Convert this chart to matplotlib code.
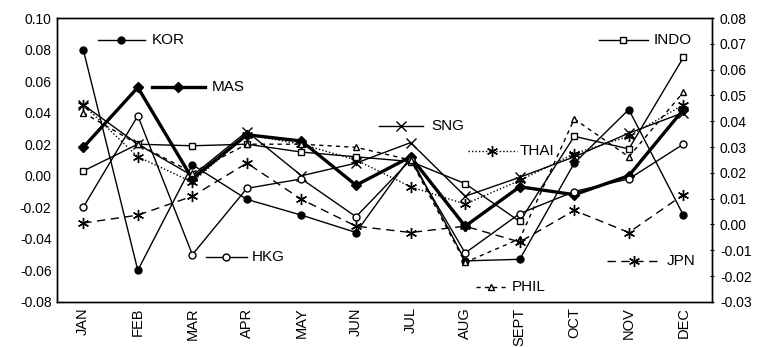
import matplotlib.pyplot as plt

plt.rcParams['font.family'] = ['Liberation Sans', 'DejaVu Sans']

# DATOS
months = ['JAN', 'FEB', 'MAR', 'APR', 'MAY', 'JUN', 'JUL', 'AUG', 'SEPT', 'OCT', 'NOV', 'DEC']

kor  = [0.080, -0.060, 0.007, -0.015, -0.025, -0.036, 0.012, -0.054, -0.053, 0.008, 0.042, -0.025]
mas  = [0.018, 0.056, -0.002, 0.026, 0.022, -0.006, 0.012, -0.032, -0.007, -0.012, 0.000, 0.042]
sng  = [0.045, 0.020, 0.000, 0.028, 0.000, 0.008, 0.021, -0.013, -0.001, 0.012, 0.027, 0.040]
thai = [0.045, 0.012, -0.004, 0.026, 0.020, 0.010, -0.007, -0.018, -0.003, 0.014, 0.025, 0.045]
indo = [0.003, 0.020, 0.019, 0.020, 0.015, 0.012, 0.009, -0.005, -0.029, 0.025, 0.017, 0.075]
hkg  = [-0.020, 0.038, -0.050, -0.008, -0.002, -0.026, 0.010, -0.049, -0.024, -0.010, -0.002, 0.020]
phil = [0.040, 0.020, 0.002, 0.020, 0.020, 0.018, 0.010, -0.055, -0.040, 0.036, 0.012, 0.053]
jpn  = [-0.030, -0.025, -0.013, 0.008, -0.015, -0.032, -0.036, -0.032, -0.042, -0.022, -0.036, -0.012]

left_ticks  = [0.10, 0.08, 0.06, 0.04, 0.02, 0.00, -0.02, -0.04, -0.06, -0.08]
right_ticks = [0.08, 0.07, 0.06, 0.05, 0.04, 0.03, 0.02, 0.01, 0.00, -0.01, -0.02, -0.03]

ASTER = (6, 2, 0)
series = [
    # nombre, datos, estilo, marcador, relleno, grosor, tam. marcador, pos. leyenda (x0, x1, y, xtexto)
    ('KOR',  kor,  '-',           'o',   'black', 1.0, 5, (0.27, 1.13, 0.086, 1.25)),
    ('MAS',  mas,  '-',           'D',   'black', 2.4, 5, (1.26, 2.23, 0.056, 2.35)),
    ('SNG',  sng,  '-',           'x',   'black', 1.0, 7, (5.42, 6.23, 0.0315, 6.38)),
    ('THAI', thai, (0, (1, 1.5)), ASTER, 'black', 1.0, 8, (7.05, 7.95, 0.0157, 8.0)),
    ('INDO', indo, '-',           's',   'white', 1.0, 5, (9.45, 10.35, 0.086, 10.45)),
    ('HKG',  hkg,  '-',           'o',   'white', 1.0, 5, (2.25, 3.0, -0.0515, 3.08)),
    ('PHIL', phil, (0, (3, 3)),   '^',   'white', 1.0, 5, (7.2, 7.75, -0.0703, 7.85)),
    ('JPN',  jpn,  (0, (6, 4)),   ASTER, 'black', 1.0, 8, (9.6, 10.6, -0.054, 10.7)),
]

fig = plt.figure(figsize=(7.61, 3.47), dpi=100)
ax = fig.add_axes([0.075, 0.130, 0.861, 0.818])
x = list(range(len(months)))

for name, vals, ls, mk, fc, lw, ms, (x0, x1, yl, xt) in series:
    ax.plot(x, vals, color='black', linestyle=ls, linewidth=lw, marker=mk,
            markersize=ms, markerfacecolor=fc, markeredgecolor='black',
            markeredgewidth=1.0)
    # clave de leyenda junto a la serie
    ax.plot([x0, x1], [yl, yl], color='black', linestyle=ls, linewidth=lw)
    ax.plot([(x0 + x1) / 2], [yl], color='black', marker=mk, markersize=ms,
            markerfacecolor=fc, markeredgecolor='black', markeredgewidth=1.0)
    ax.text(xt, yl, name, fontsize=11, va='center', ha='left')

ax.set_xlim(-0.48, 11.53)
ax.set_ylim(-0.08, 0.10)
ax.set_xticks(x)
ax.set_xticklabels(months, rotation=90, fontsize=10.5)
ax.set_yticks(left_ticks)
ax.set_yticklabels(['%.2f' % v for v in left_ticks], fontsize=10)
ax.tick_params(axis='both', length=0, pad=4)

ax2 = ax.twinx()
ax2.set_ylim(-0.03, 0.08)
ax2.set_yticks(right_ticks)
ax2.set_yticklabels(['%.2f' % v for v in right_ticks], fontsize=10)
ax2.tick_params(axis='y', length=3, direction='inout', pad=4)

for a in (ax, ax2):
    for s in a.spines.values():
        s.set_linewidth(1.0)

fig.savefig('out.png', dpi=100)
